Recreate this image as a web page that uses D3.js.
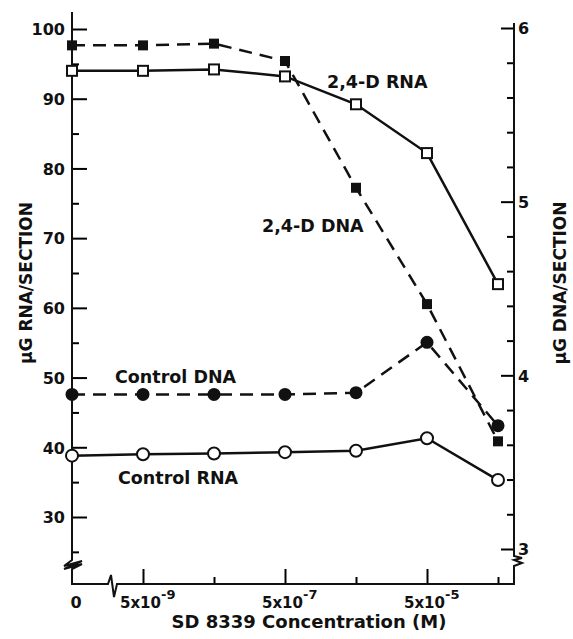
<!DOCTYPE html>
<html>
<head>
<meta charset="utf-8">
<script src="https://cdn.jsdelivr.net/npm/d3@7"></script>
<style>
  body { margin: 0; background: #fff; }
  svg text { font-family: "DejaVu Sans", sans-serif; font-weight: bold; fill: #111; }
</style>
</head>
<body>
<div id="chart"></div>
<script>
// concentration (M); 0 = control point at the y axis
const conc = [0, 5e-9, 5e-8, 5e-7, 5e-6, 5e-5, 5e-4];
const rna24D = [94.0, 94.0, 94.2, 93.2, 89.2, 82.2, 63.4];    // left axis
const dna24D = [5.90, 5.90, 5.91, 5.81, 5.08, 4.41, 3.62];    // right axis
const controlDNA = [3.89, 3.89, 3.89, 3.89, 3.90, 4.19, 3.71]; // right axis
const controlRNA = [38.8, 39.0, 39.1, 39.3, 39.5, 41.3, 35.3]; // left axis
const leftTicks = [30, 40, 50, 60, 70, 80, 90, 100];
const leftMinor = [25, 35, 45, 55, 65, 75, 85, 95];
const rightTicks = [3, 4, 5, 6];
const rightMinor = [3.2, 3.4, 3.6, 3.8, 4.2, 4.4, 4.6, 4.8, 5.2, 5.4, 5.6, 5.8];
const xMajor = [5e-9, 5e-7, 5e-5];
const xMinor = [5e-8, 5e-6, 5e-4];
const xLabelExp = ["-9", "-7", "-5"];

const width = 573, height = 639;
const x0 = 72, x1 = 514, yBase = 584;

const svg = d3.select("#chart").append("svg")
    .attr("width", width)
    .attr("height", height);

const x = d3.scaleLog().domain([5e-9, 5e-4]).range([143, 498]);
const xPos = d => d === 0 ? x0 : x(d);
const yL = d3.scaleLinear().domain([100, 30]).range([29, 517]);
const yR = d3.scaleLinear().domain([6, 3]).range([28, 549]);

// left axis
const leftAxis = svg.append("g").attr("transform", `translate(${x0},0)`);
leftAxis.call(d3.axisLeft(yL).tickValues(leftTicks).tickSize(-15).tickPadding(7).tickSizeOuter(0));
leftAxis.select(".domain").remove();
leftAxis.selectAll("text").style("font-size", "16px").attr("dy", "0.36em");
leftAxis.selectAll("line").attr("stroke-width", 2);
svg.append("g").attr("transform", `translate(${x0},0)`)
    .call(d3.axisLeft(yL).tickValues(leftMinor).tickSize(-7).tickFormat(""))
    .call(g => g.select(".domain").remove())
    .selectAll("line").attr("stroke-width", 2);

// right axis
const rightAxis = svg.append("g").attr("transform", `translate(${x1},0)`);
rightAxis.call(d3.axisRight(yR).tickValues(rightTicks).tickSize(-13).tickPadding(4).tickFormat(d3.format("d")));
rightAxis.select(".domain").remove();
rightAxis.selectAll("text").style("font-size", "16px").attr("dy", "0.36em");
rightAxis.selectAll("line").attr("stroke-width", 2);
svg.append("g").attr("transform", `translate(${x1},0)`)
    .call(d3.axisRight(yR).tickValues(rightMinor).tickSize(-7).tickFormat(""))
    .call(g => g.select(".domain").remove())
    .selectAll("line").attr("stroke-width", 2);

// bottom axis
const bottomAxis = svg.append("g").attr("transform", `translate(0,${yBase})`);
bottomAxis.call(d3.axisBottom(x).tickValues(xMajor).tickSize(-15).tickFormat(""));
bottomAxis.select(".domain").remove();
bottomAxis.selectAll("line").attr("stroke-width", 2);
svg.append("g").attr("transform", `translate(0,${yBase})`)
    .call(d3.axisBottom(x).tickValues(xMinor).tickSize(-7).tickFormat(""))
    .call(g => g.select(".domain").remove())
    .selectAll("line").attr("stroke-width", 2);

xMajor.forEach((v, i) => {
  const t = svg.append("text")
      .attr("x", x(v) - 23)
      .attr("y", 608)
      .style("font-size", "15px");
  t.append("tspan").text("5x10");
  t.append("tspan").attr("dy", -9).style("font-size", "13px").text(xLabelExp[i]);
});
svg.append("text").attr("x", 76).attr("y", 608)
    .attr("text-anchor", "middle").style("font-size", "16px").text("0");

// axis lines with breaks
const axisStyle = sel => sel.attr("fill", "none").attr("stroke", "#111").attr("stroke-width", 2);
svg.append("path").call(axisStyle)
    .attr("d", `M${x0},12 L${x0},560 L64,566 L82,561 L64,569 L82,564 L${x0},569 L${x0},${yBase} L108,${yBase} L111,575 L114,597 L117,${yBase} L${x1},${yBase} L${x1},566 L522,563 L514,560 L522,558 L${x1},556 L${x1},23`);

// series
const lineGen = (ys, scale) => d3.line()
    .x((d, i) => xPos(conc[i]))
    .y(d => scale(d))(ys);

svg.append("path").attr("d", lineGen(rna24D, yL))
    .attr("fill", "none").attr("stroke", "#111").attr("stroke-width", 2.5);
svg.append("path").attr("d", lineGen(controlRNA, yL))
    .attr("fill", "none").attr("stroke", "#111").attr("stroke-width", 2.5);
svg.append("path").attr("d", lineGen(dna24D, yR))
    .attr("fill", "none").attr("stroke", "#111").attr("stroke-width", 2.5)
    .attr("stroke-dasharray", "13,8");
svg.append("path").attr("d", lineGen(controlDNA, yR))
    .attr("fill", "none").attr("stroke", "#111").attr("stroke-width", 2.5)
    .attr("stroke-dasharray", "13,8");

const sq = 10;
svg.append("g").selectAll("rect")
    .data(dna24D).join("rect")
    .attr("x", (d, i) => xPos(conc[i]) - sq / 2)
    .attr("y", d => yR(d) - sq / 2)
    .attr("width", sq).attr("height", sq)
    .attr("fill", "#111");
svg.append("g").selectAll("rect")
    .data(rna24D).join("rect")
    .attr("x", (d, i) => xPos(conc[i]) - sq / 2)
    .attr("y", d => yL(d) - sq / 2)
    .attr("width", sq).attr("height", sq)
    .attr("fill", "#fff").attr("stroke", "#111").attr("stroke-width", 2);
svg.append("g").selectAll("circle")
    .data(controlDNA).join("circle")
    .attr("cx", (d, i) => xPos(conc[i]))
    .attr("cy", d => yR(d))
    .attr("r", 6.5)
    .attr("fill", "#111");
svg.append("g").selectAll("circle")
    .data(controlRNA).join("circle")
    .attr("cx", (d, i) => xPos(conc[i]))
    .attr("cy", d => yL(d))
    .attr("r", 6)
    .attr("fill", "#fff").attr("stroke", "#111").attr("stroke-width", 2);

// series labels
const label = (tx, ty, s) => svg.append("text").attr("x", tx).attr("y", ty)
    .style("font-size", "17.5px").text(s);
label(327, 88, "2,4-D RNA");
label(262, 232, "2,4-D DNA");
label(115, 383, "Control DNA");
label(118, 484, "Control RNA");

// axis titles
svg.append("text")
    .attr("transform", "translate(32,283) rotate(-90)")
    .attr("text-anchor", "middle").style("font-size", "17px")
    .text("μG RNA/SECTION");
svg.append("text")
    .attr("transform", "translate(566,283) rotate(-90)")
    .attr("text-anchor", "middle").style("font-size", "17px")
    .text("μG DNA/SECTION");
svg.append("text")
    .attr("x", 309).attr("y", 628)
    .attr("text-anchor", "middle").style("font-size", "18px")
    .text("SD 8339 Concentration (M)");
</script>
</body>
</html>
